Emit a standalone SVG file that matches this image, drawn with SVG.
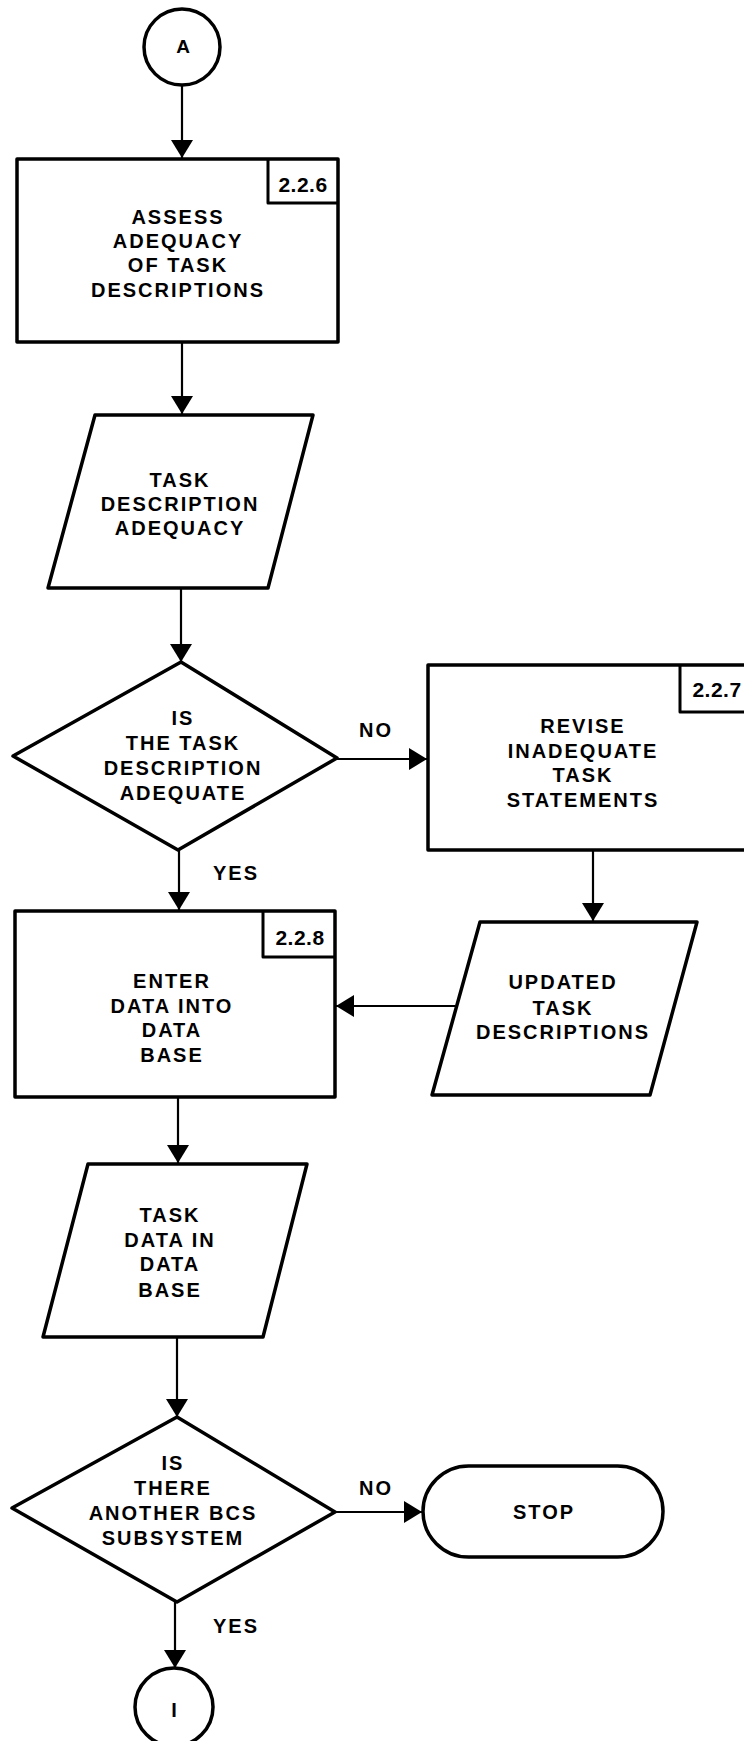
<svg xmlns="http://www.w3.org/2000/svg" width="744" height="1741" viewBox="0 0 744 1741">
  <defs>
    <marker id="arrow" viewBox="0 0 18 22" refX="18" refY="11" markerWidth="18" markerHeight="22" markerUnits="userSpaceOnUse" orient="auto">
      <path d="M0,0 L18,11 L0,22 Z" fill="#000"/>
    </marker>
    <style>
      .shape { fill: #fff; stroke: #000; stroke-width: 3.5; stroke-linejoin: round; }
      .tab { fill: none; stroke: #000; stroke-width: 3; stroke-linejoin: round; }
      .conn { fill: none; stroke: #000; stroke-width: 2.2; marker-end: url(#arrow); }
      text { font-family: "Liberation Sans", Arial, sans-serif; font-weight: bold; font-size: 20px; fill: #000; letter-spacing: 2px; }
      .c { text-anchor: middle; }
      .num { font-size: 21px; letter-spacing: 0.5px; text-anchor: middle; }
    </style>
  </defs>
  <rect width="744" height="1741" fill="#fff"/>

  <!-- flow lines -->
  <g id="connectors">
    <line class="conn" x1="182" y1="85" x2="182" y2="158"/>
    <line class="conn" x1="182" y1="342" x2="182" y2="414"/>
    <line class="conn" x1="181" y1="588" x2="181" y2="662"/>
    <line class="conn" x1="337" y1="759" x2="427" y2="759"/>
    <line class="conn" x1="179" y1="850" x2="179" y2="910"/>
    <line class="conn" x1="593" y1="850" x2="593" y2="921"/>
    <line class="conn" x1="455" y1="1006" x2="336" y2="1006"/>
    <line class="conn" x1="178" y1="1097" x2="178" y2="1163"/>
    <line class="conn" x1="177" y1="1337" x2="177" y2="1417"/>
    <line class="conn" x1="335" y1="1512" x2="422" y2="1512"/>
    <line class="conn" x1="175" y1="1602" x2="175" y2="1668"/>
    <text x="359" y="737">NO</text>
    <text x="213" y="880">YES</text>
    <text x="359" y="1495">NO</text>
    <text x="213" y="1633">YES</text>
  </g>

  <g id="connector-a">
    <circle class="shape" cx="182" cy="47" r="38"/>
    <text class="c" x="183" y="53" style="font-size:19px;letter-spacing:0">A</text>
  </g>

  <g id="step-226">
    <rect class="shape" x="17" y="159" width="321" height="183"/>
    <path class="tab" d="M268,159 V203 H338"/>
    <text class="num" x="303" y="192">2.2.6</text>
    <text class="c" x="178" y="224">ASSESS</text>
    <text class="c" x="178" y="248">ADEQUACY</text>
    <text class="c" x="178" y="272">OF TASK</text>
    <text class="c" x="178" y="297">DESCRIPTIONS</text>
  </g>

  <g id="data-adequacy">
    <polygon class="shape" points="95,415 313,415 268,588 48,588"/>
    <text class="c" x="180" y="487">TASK</text>
    <text class="c" x="180" y="511">DESCRIPTION</text>
    <text class="c" x="180" y="535">ADEQUACY</text>
  </g>

  <g id="decision-adequate">
    <polygon class="shape" points="181,662 337,758 178,850 13,756"/>
    <text class="c" x="183" y="725">IS</text>
    <text class="c" x="183" y="750">THE TASK</text>
    <text class="c" x="183" y="775">DESCRIPTION</text>
    <text class="c" x="183" y="800">ADEQUATE</text>
  </g>

  <g id="step-227">
    <rect class="shape" x="428" y="665" width="332" height="185"/>
    <path class="tab" d="M680,665 V712 H760"/>
    <text class="num" x="717" y="697">2.2.7</text>
    <text class="c" x="583" y="733">REVISE</text>
    <text class="c" x="583" y="758">INADEQUATE</text>
    <text class="c" x="583" y="782">TASK</text>
    <text class="c" x="583" y="807">STATEMENTS</text>
  </g>

  <g id="data-updated">
    <polygon class="shape" points="480,922 697,922 650,1095 432,1095"/>
    <text class="c" x="563" y="989">UPDATED</text>
    <text class="c" x="563" y="1015">TASK</text>
    <text class="c" x="563" y="1039">DESCRIPTIONS</text>
  </g>

  <g id="step-228">
    <rect class="shape" x="15" y="911" width="320" height="186"/>
    <path class="tab" d="M263,911 V957 H335"/>
    <text class="num" x="300" y="945">2.2.8</text>
    <text class="c" x="172" y="988">ENTER</text>
    <text class="c" x="172" y="1013">DATA INTO</text>
    <text class="c" x="172" y="1037">DATA</text>
    <text class="c" x="172" y="1062">BASE</text>
  </g>

  <g id="data-stored">
    <polygon class="shape" points="88,1164 307,1164 263,1337 43,1337"/>
    <text class="c" x="170" y="1222">TASK</text>
    <text class="c" x="170" y="1247">DATA IN</text>
    <text class="c" x="170" y="1271">DATA</text>
    <text class="c" x="170" y="1297">BASE</text>
  </g>

  <g id="decision-another">
    <polygon class="shape" points="177,1417 335,1512 177,1602 12,1508"/>
    <text class="c" x="173" y="1470">IS</text>
    <text class="c" x="173" y="1495">THERE</text>
    <text class="c" x="173" y="1520">ANOTHER BCS</text>
    <text class="c" x="173" y="1545">SUBSYSTEM</text>
  </g>

  <g id="stop">
    <rect class="shape" x="423" y="1466" width="240" height="91" rx="45.5" ry="45.5"/>
    <text class="c" x="544" y="1519">STOP</text>
  </g>

  <g id="connector-1">
    <circle class="shape" cx="174" cy="1707" r="39"/>
    <text class="c" x="174" y="1717" style="letter-spacing:0">I</text>
  </g>
</svg>
